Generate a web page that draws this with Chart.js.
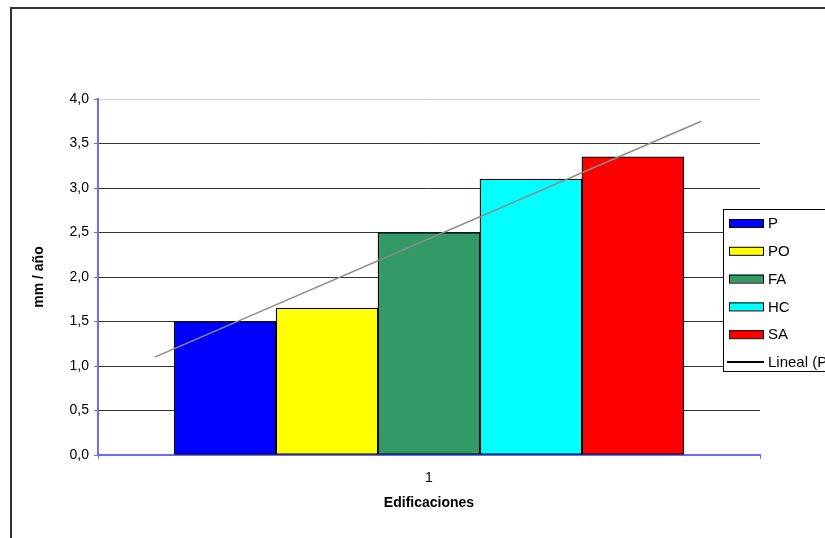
<!DOCTYPE html>
<html>
<head>
<meta charset="utf-8">
<script src="https://cdn.jsdelivr.net/npm/chart.js@4/dist/chart.umd.min.js"></script>
<style>
  html, body { margin: 0; padding: 0; background: #fff; overflow: hidden; }
  #chart { display: block; }
</style>
</head>
<body>
<canvas id="chart" width="825" height="538"></canvas>
<script>
// data
const categories = ['1'];
const seriesNames = ['P', 'PO', 'FA', 'HC', 'SA'];
const seriesValues = [1.5, 1.65, 2.5, 3.1, 3.35];
const seriesColors = ['#0000ff', '#ffff00', '#339966', '#00ffff', '#ff0000'];
const trendLabel = 'Lineal (P)';
const trendX = [0.31, 5.67];   // position along the five bars (bar n sits at n)
const trendY = [1.10, 3.75];

const fontName = '"Liberation Sans", Arial, sans-serif';
const axisBlue = '#6b6bff';

// the five bars sit side by side inside the single category, bar n at position n
const groupCenter = (seriesNames.length + 1) / 2;
const groupShare = 0.77; // part of the axis width taken by the bar group
const halfRange = seriesNames.length / 2 / groupShare;

let datasets = seriesNames.map((name, i) => ({
  type: 'bar',
  label: name,
  data: [{ x: i + 1, y: seriesValues[i] }],
  backgroundColor: seriesColors[i],
  borderColor: '#000',
  borderWidth: 1.3,
  borderSkipped: false,
  grouped: false,
  categoryPercentage: 1,
  barPercentage: 1,
  order: 2
}));

datasets.push({
  type: 'line',
  label: trendLabel,
  data: trendX.map((x, i) => ({ x: x, y: trendY[i] })),
  borderColor: '#8c8c8c',
  borderWidth: 1.5,
  pointRadius: 0,
  fill: false,
  order: 1
});

// white page + outer frame of the chart object
const framePlugin = {
  id: 'frame',
  beforeDraw(chart) {
    const c = chart.ctx;
    c.save();
    c.fillStyle = '#fff';
    c.fillRect(0, 0, chart.width, chart.height);
    c.strokeStyle = '#333';
    c.lineWidth = 2;
    c.strokeRect(11, 8, chart.width + 20, chart.height + 20);
    c.restore();
  }
};

// legend box floating over the right edge, clipped by the page like in the original
const legendPlugin = {
  id: 'floatLegend',
  afterDraw(chart) {
    const c = chart.ctx;
    const bx = 723, by = 209, bh = 162;
    c.save();
    c.fillStyle = '#fff';
    c.fillRect(bx, by, 140, bh);
    c.strokeStyle = '#000';
    c.lineWidth = 1;
    c.strokeRect(bx + 0.5, by + 0.5, 140, bh);
    c.font = '15px ' + fontName;
    c.textBaseline = 'middle';
    chart.data.datasets.forEach((ds, i) => {
      const y = 223 + i * 27.8;
      if (ds.type === 'bar') {
        c.fillStyle = ds.backgroundColor;
        c.fillRect(729, y - 4, 34, 8);
        c.strokeStyle = '#000';
        c.strokeRect(729.5, y - 3.5, 34, 8);
      } else {
        c.strokeStyle = '#000';
        c.lineWidth = 2;
        c.beginPath();
        c.moveTo(727, y);
        c.lineTo(764, y);
        c.stroke();
        c.lineWidth = 1;
      }
      c.fillStyle = '#000';
      c.fillText(ds.label, 768, y + 1);
    });
    c.restore();
  }
};

const ctx = document.getElementById('chart');
new Chart(ctx, {
  data: {
    datasets: datasets
  },
  plugins: [framePlugin, legendPlugin],
  options: {
    responsive: false,
    animation: false,
    layout: { padding: { left: 0, top: 99, right: 65, bottom: 0 } },
    plugins: {
      legend: { display: false },
      tooltip: { enabled: false }
    },
    scales: {
      x: {
        type: 'linear',
        offset: false,
        min: groupCenter - halfRange,
        max: groupCenter + halfRange,
        afterFit(scale) { scale.height = 83; },
        // category edges get tick marks, the category label sits in the middle
        afterBuildTicks(scale) {
          scale.ticks = [scale.min, groupCenter, scale.max].map(v => ({ value: v }));
        },
        grid: {
          offset: false,
          drawOnChartArea: false,
          drawTicks: true,
          tickLength: 4,
          tickColor: c => (c.tick && c.tick.value === groupCenter ? 'rgba(0,0,0,0)' : axisBlue)
        },
        border: { color: axisBlue, width: 2 },
        ticks: {
          color: '#000',
          font: { family: fontName, size: 14 },
          padding: 11,
          maxRotation: 0,
          autoSkip: false,
          callback: v => (v === groupCenter ? categories[0] : '')
        },
        title: {
          display: true,
          text: 'Edificaciones',
          color: '#000',
          font: { family: fontName, size: 14, weight: 'bold' },
          padding: { top: 0, bottom: 26 }
        }
      },
      y: {
        min: 0,
        max: 4,
        afterFit(scale) { scale.width = 98; },
        ticks: {
          stepSize: 0.5,
          color: '#000',
          font: { family: fontName, size: 14 },
          padding: 5,
          callback: v => v.toFixed(1).replace('.', ',')
        },
        grid: {
          color: c => (c.tick && c.tick.value === 4 ? '#cccccc' : '#333333'),
          lineWidth: 1,
          tickLength: 4,
          tickColor: axisBlue
        },
        border: { color: axisBlue, width: 2 },
        title: {
          display: true,
          text: 'mm / año',
          color: '#000',
          font: { family: fontName, size: 14, weight: 'bold' },
          padding: { top: 31, bottom: 0 }
        }
      }
    }
  }
});
</script>
</body>
</html>
